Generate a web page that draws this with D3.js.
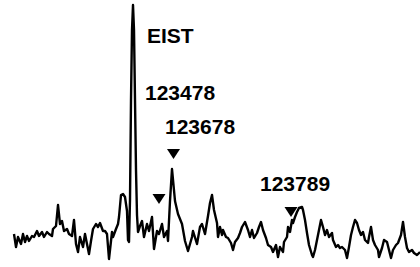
<!DOCTYPE html>
<html>
<head>
<meta charset="utf-8">
<script src="https://cdn.jsdelivr.net/npm/d3@7"></script>
<style>
  html, body { margin: 0; padding: 0; background: #fff; }
  svg { display: block; }
  .lbl { font-family: "Liberation Sans", Arial, sans-serif; font-weight: bold; font-size: 21px; fill: #000; }
</style>
</head>
<body>
<svg id="chart" width="420" height="267"></svg>
<script>
// trace: channel position and signal height
var channel = [14,16,18,21,23,25,27,29,32,34,37,39,42,44,47,49,52,53,56,58,60,62,64,67,69,72,74,76,78,80,83,85,87,89,91,93,96,98,100,103,105,107,109,112,113,116,118,119,121,123,125,127,128,129,130,131,132,133,134,135,136,137,138,140,142,144,147,149,152,154,157,159,162,164,167,168,170,172,175,178,182,185,188,192,193,197,200,202,205,208,210,212,214,217,218,220,222,223,226,228,231,233,235,238,240,242,245,248,250,252,254,257,259,261,263,266,268,271,273,276,278,280,283,284,287,288,290,292,293,295,297,299,302,303,305,307,309,312,313,315,317,319,321,323,325,327,329,332,333,336,338,340,342,345,347,349,351,353,355,357,359,361,363,365,368,369,371,373,375,378,379,382,384,387,389,391,393,396,398,401,403,405,407,409,412,414,417,420];
var signal = [28,15,25,18,28,20,26,21,26,25,31,26,30,25,30,28,26,33,36,57,38,41,31,33,28,26,42,18,10,25,15,28,18,8,21,33,38,35,39,31,31,28,3,30,25,33,38,45,67,68,65,51,22,20,62,162,232,257,232,162,92,47,30,36,41,25,38,31,45,13,31,28,38,25,31,21,61,93,61,48,38,21,11,25,31,18,35,38,28,46,59,67,52,39,25,35,27,32,25,24,19,12,20,24,29,35,40,32,25,32,24,29,35,40,32,24,17,15,10,17,5,15,10,20,25,35,30,42,39,45,50,54,55,52,42,29,17,7,5,12,22,32,42,35,27,32,25,29,22,15,17,14,15,12,4,15,27,35,42,39,32,27,30,22,19,25,35,22,17,12,5,14,22,20,12,4,12,17,19,27,40,25,14,10,12,9,7,10];

// annotations
var labelText = ['EIST', '123478', '123678', '123789'];
var labelX = [147, 145, 165, 260];
var labelY = [219, 162, 128, 71];

var markerX = [159, 173.5, 291];
var markerY = [58, 103, 45];

var svg = d3.select('#chart');

var x = d3.scaleLinear().domain([0, 420]).range([0, 420]);
var y = d3.scaleLinear().domain([0, 260]).range([262, 2]);

var line = d3.line()
  .x(function(d, i) { return x(channel[i]); })
  .y(function(d) { return y(d); });

svg.append('path')
  .datum(signal)
  .attr('d', line)
  .attr('fill', 'none')
  .attr('stroke', '#000')
  .attr('stroke-width', 2.4)
  .attr('stroke-linejoin', 'round');

svg.selectAll('.lbl')
  .data(labelText)
  .enter().append('text')
  .attr('class', 'lbl')
  .attr('x', function(d, i) { return x(labelX[i]); })
  .attr('y', function(d, i) { return y(labelY[i]); })
  .text(function(d) { return d; });

// down-pointing triangles, tip at the marker value
svg.selectAll('.mark')
  .data(markerX)
  .enter().append('path')
  .attr('class', 'mark')
  .attr('d', function(d, i) {
    var cx = x(d), ty = y(markerY[i]);
    return 'M' + (cx - 6.5) + ',' + (ty - 10) + 'L' + (cx + 6.5) + ',' + (ty - 10) + 'L' + cx + ',' + ty + 'Z';
  })
  .attr('fill', '#000');
</script>
</body>
</html>
